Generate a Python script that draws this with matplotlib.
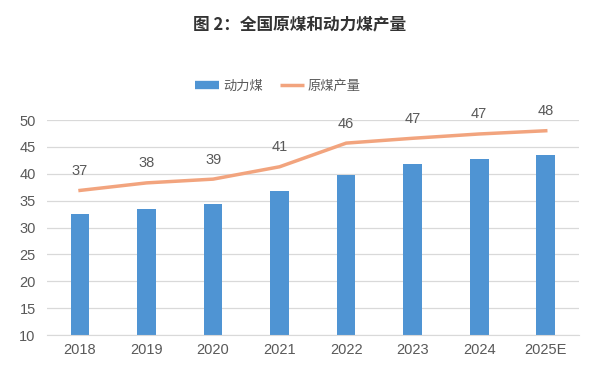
import matplotlib
matplotlib.use("Agg")
import matplotlib.pyplot as plt
from matplotlib.lines import Line2D
import numpy as np

plt.rcParams['font.family'] = ['Liberation Sans', 'Noto Sans CJK SC', 'DejaVu Sans']

years = ["2018", "2019", "2020", "2021", "2022", "2023", "2024", "2025E"]
steam_coal = [32.6, 33.5, 34.4, 36.7, 39.7, 41.8, 42.8, 43.4]
raw_coal = [36.9, 38.3, 39.0, 41.3, 45.7, 46.6, 47.4, 48.0]
raw_labels = ["37", "38", "39", "41", "46", "47", "47", "48"]

bar_color = "#4F94D3"
line_color = "#F2A47E"

fig = plt.figure(figsize=(6, 3.8), dpi=100)
ax = fig.add_axes([0.078, 0.1184, 0.887, 0.5658])
x = np.arange(len(years))
ax.bar(x, steam_coal, width=0.28, color=bar_color, label="动力煤", zorder=2)
line, = ax.plot(x, raw_coal, color=line_color, lw=2.5, label="原煤产量", zorder=3)
for xi, yi, t in zip(x, raw_coal, raw_labels):
    ax.annotate(t, (xi, yi), xytext=(0, 9), textcoords="offset points",
                ha="center", va="bottom", fontsize=10.5, color="#595959")

ax.set_ylim(10, 50)
ax.set_xlim(-0.5, len(years) - 0.5)
ax.set_yticks(range(10, 51, 5))
ax.set_xticks(x)
ax.set_xticklabels(years)
ax.grid(axis="y", color="#D9D9D9", lw=0.9, zorder=0)
ax.set_axisbelow(True)
for s in ["top", "right", "left"]:
    ax.spines[s].set_visible(False)
ax.spines["bottom"].set_color("#D9D9D9")
ax.tick_params(axis="both", length=0, labelsize=10.5, colors="#595959")
ax.tick_params(axis="x", pad=6)
ax.tick_params(axis="y", pad=8)

fig.text(0.5, 0.935, "图 2：全国原煤和动力煤产量", ha="center", va="center",
         fontsize=12, fontweight="bold", color="#333333",
         family=['Noto Sans CJK SC', 'DejaVu Sans'])
bar_handle = Line2D([], [], color=bar_color, lw=6, solid_capstyle="butt")
line_handle = Line2D([], [], color=line_color, lw=2.5, solid_capstyle="butt")
fig.legend([bar_handle, line_handle], ["动力煤", "原煤产量"], loc="center",
           bbox_to_anchor=(0.463, 0.774), ncol=2, frameon=False,
           prop={'family': ['Noto Sans CJK SC'], 'size': 9.5},
           labelcolor="#595959", handlelength=1.8, handletextpad=0.3,
           columnspacing=1.3)

fig.savefig("out.png", dpi=100)
